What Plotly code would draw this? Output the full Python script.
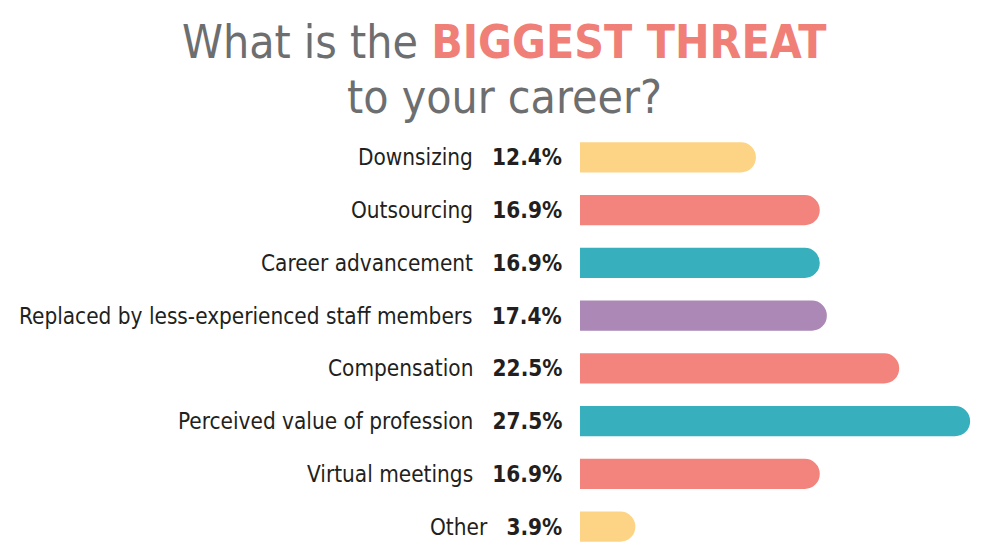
import plotly.graph_objects as go

categories = ["Downsizing", "Outsourcing", "Career advancement",
              "Replaced by less-experienced staff members", "Compensation",
              "Perceived value of profession", "Virtual meetings", "Other"]
values = [12.4, 16.9, 16.9, 17.4, 22.5, 27.5, 16.9, 3.9]
colors = ["#FDD385", "#F2837D", "#38AFBD", "#AB88B5", "#F2837D", "#38AFBD", "#F2837D", "#FDD385"]

FONT = "DejaVu Sans Condensed, Liberation Sans Narrow, sans-serif"
LBL = 22.4

fig = go.Figure(go.Bar(
    x=values, y=categories, orientation="h",
    marker=dict(color=colors, line=dict(width=0)),
    hoverinfo="skip",
))

for c, v in zip(categories, values):
    fig.add_annotation(x=-0.04, xref="paper", y=c, yref="y", xanchor="right", yanchor="middle",
                       text="%s&nbsp;&nbsp;&nbsp;<b>%.1f%%</b>" % (c, v), showarrow=False,
                       font=dict(family=FONT, size=LBL, color="#231f20"))

# title lines (paper coords relative to plot area)
fig.add_annotation(x=-0.183, xref="paper", y=1.211, yref="paper", yanchor="middle", xanchor="center",
                   text="What is the <b><span style='color:#F07F78'>BIGGEST THREAT</span></b>",
                   showarrow=False, font=dict(family=FONT, size=46, color="#6d6e70"))
fig.add_annotation(x=-0.183, xref="paper", y=1.081, yref="paper", yanchor="middle", xanchor="center",
                   text="to your career?", showarrow=False,
                   font=dict(family=FONT, size=46, color="#6d6e70"))

fig.update_layout(
    width=1000, height=555,
    margin=dict(l=572, r=18, t=123, b=10),
    paper_bgcolor="white", plot_bgcolor="white",
    barcornerradius=15,
    bargap=0.43,
    showlegend=False,
    xaxis=dict(range=[0, 28.9], visible=False, fixedrange=True),
    yaxis=dict(categoryorder="array", categoryarray=categories, autorange="reversed",
               visible=False, fixedrange=True),
)

fig.write_html("out.html")
